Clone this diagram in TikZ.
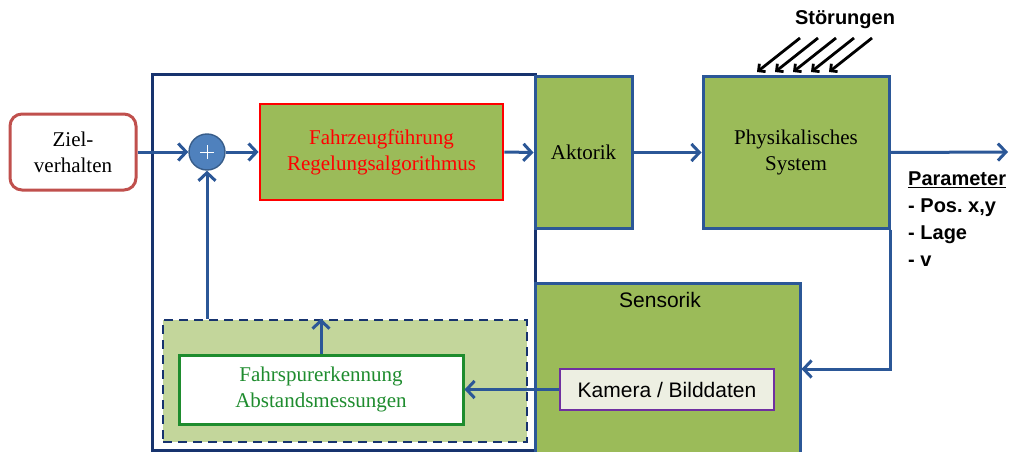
\documentclass[tikz,border=0pt]{standalone}
\usepackage{fontspec}
\setmainfont{Liberation Serif}
\setsansfont{Liberation Sans}
\usetikzlibrary{arrows.meta,calc}
\definecolor{navy}{HTML}{17336E}
\definecolor{arrblue}{HTML}{2B5797}
\definecolor{boxgreen}{HTML}{9BBB59}
\definecolor{lightgreen}{HTML}{C3D69B}
\definecolor{zielred}{HTML}{C0504D}
\definecolor{sumfill}{HTML}{4F81BD}
\definecolor{sumdraw}{HTML}{385D8A}
\definecolor{fahrgreen}{HTML}{1E8C2E}
\definecolor{kamfill}{HTML}{EDEFE2}
\definecolor{kampurple}{HTML}{7030A0}
\tikzset{
  arr/.style={draw=arrblue, line width=3pt, -{Straight Barb[length=8pt,width=17pt]}},
  gbox/.style={draw=arrblue, fill=boxgreen, line width=3pt, inner sep=0pt},
  serif/.style={font=\fontsize{21}{26}\selectfont, align=center},
  sans/.style={font=\sffamily\fontsize{21}{26}\selectfont, align=center},
}
\begin{document}
\begin{tikzpicture}[x=1pt,y=-1pt]
\useasboundingbox (0,0) rectangle (1015,452);
% outer frame
\draw[navy, line width=3pt] (152,75) rectangle (535,450);
% Ziel
\node[draw=zielred, line width=3pt, rounded corners=12pt, minimum width=126pt, minimum height=76pt, serif, inner sep=0pt] (ziel) at (73,152) {Ziel-\\verhalten};
% sum
\node[circle, fill=sumfill, draw=sumdraw, line width=1.4pt, minimum size=36pt, inner sep=0pt] (sum) at (207,152) {};
\draw[white, line width=1pt] ($(sum)+(-7,0)$) -- ($(sum)+(7,0)$);
\draw[white, line width=1pt] ($(sum)+(0,-7)$) -- ($(sum)+(0,7)$);
% controller
\node[gbox, draw=red, line width=2.8pt, minimum width=243pt, minimum height=96pt, serif, text=red] (ctrl) at (381.5,152) {Fahrzeugführung\\Regelungsalgorithmus};
% Aktorik
\node[gbox, minimum width=97pt, minimum height=151pt, serif] (akt) at (583.5,152.5) {Aktorik};
% Physikalisches System
\node[gbox, minimum width=186pt, minimum height=151pt, serif] (phys) at (796,152.5) {Physikalisches\\System};
% Sensorik
\node[gbox, minimum width=265pt, minimum height=172pt] (sens) at (667.5,369) {};
\node[sans, anchor=north] (senslbl) at (660,289) {Sensorik};
\node[draw=kampurple, fill=kamfill, line width=2.2pt, minimum width=214pt, minimum height=41pt, sans, inner sep=0pt] (kam) at (667,389.5) {Kamera / Bilddaten};
% dashed box
\node[draw=navy, fill=lightgreen, dashed, dash pattern=on 9pt off 6pt, line width=2.8pt, minimum width=364pt, minimum height=122pt] (dash) at (345,381) {};
\node[draw=fahrgreen, fill=white, line width=3pt, minimum width=284pt, minimum height=69pt, serif, text=fahrgreen, inner sep=0pt] (fahr) at (321,389.5) {Fahrspurerkennung\\Abstandsmessungen};
% connectors
\draw[arr] (ziel.east) -- (sum.west);
\draw[arr] (sum.east) -- (ctrl.west);
\draw[arr] (ctrl.east) -- (akt.west);
\draw[arr] (akt.east) -- (phys.west);
\coordinate (out) at (1008,152);
\draw[arr] (phys.east) -- (out);
\draw[arr] (phys.south east) |- (sens.east);
\draw[arr] (kam.west) -- (fahr.east);
\draw[arr] (fahr.north) -- (fahr.north |- dash.north);
\draw[arr] (sum.south |- dash.north) -- (sum.south);
% Stoerungen
\node[font=\sffamily\bfseries\fontsize{20}{24}\selectfont] (stoer) at (845,20) {Störungen};
\foreach \i in {0,...,4}{
  \coordinate (s\i) at ({800+18*\i},38);
  \coordinate (e\i) at ({757+18*\i},72);
  \draw[black, line width=2.8pt, -{Straight Barb[length=5pt,width=10pt]}] (s\i) -- (e\i);
}
% Parameter
\node[font=\sffamily\bfseries\fontsize{20}{27}\selectfont, align=left, anchor=north west, inner sep=0pt] (param) at (908,172) {\underline{Parameter}\\- Pos.\ x,y\\- Lage\\- v};
\end{tikzpicture}
\end{document}
